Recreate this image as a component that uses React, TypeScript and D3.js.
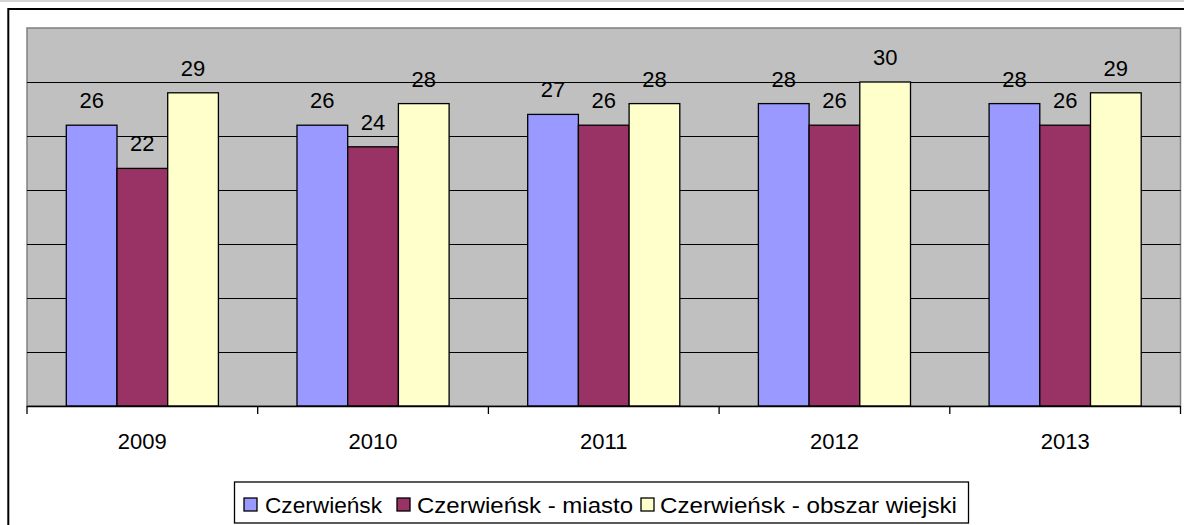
import React from "react";
import * as d3 from "d3";

const years = ["2009", "2010", "2011", "2012", "2013"];
const seriesNames = ["Czerwieńsk", "Czerwieńsk - miasto", "Czerwieńsk - obszar wiejski"];
const czerwiensk = [26, 26, 27, 28, 28];
const miasto = [22, 24, 26, 26, 26];
const obszarWiejski = [29, 28, 28, 30, 29];
const yTicks = [5, 10, 15, 20, 25, 30];

const colors = ["#9999FF", "#993366", "#FFFFCC"];
const FONT = "'Liberation Sans', Arial, sans-serif";

export default function App() {
  const W = 1184;
  const H = 525;
  const plot = { left: 27, right: 1180.5, top: 28, bottom: 406 };

  const seriesValues = [czerwiensk, miasto, obszarWiejski];

  const x0 = d3.scaleBand<string>().domain(years).range([plot.left, plot.right]).padding(0);
  const x1 = d3
    .scaleBand<string>()
    .domain(seriesNames)
    .range([0, x0.bandwidth()])
    .paddingInner(0)
    .paddingOuter(0.775);
  const y = d3.scaleLinear().domain([0, 35]).range([plot.bottom, plot.top]);

  const tickXs = years.map((yr) => x0(yr) as number).concat([plot.right]);

  // legend layout
  const legendItems = [
    { sq: 244, tx: 265, len: 117 },
    { sq: 397, tx: 417, len: 216 },
    { sq: 641, tx: 660, len: 297 },
  ];

  return (
    <div style={{ position: "absolute", left: 0, top: 0 }}>
      <svg width={W} height={H} style={{ display: "block" }}>
        <rect x={0} y={0} width={W} height={H} fill="#ffffff" />
        <rect x={0} y={0} width={W} height={2} fill="#d4d4d4" />
        {/* outer chart border */}
        <rect x={8.3} y={9} width={1190} height={540} fill="#ffffff" stroke="#000" strokeWidth={2} />

        {/* plot area */}
        <rect
          x={plot.left}
          y={plot.top}
          width={plot.right - plot.left}
          height={plot.bottom - plot.top}
          fill="#C0C0C0"
          stroke="#808080"
          strokeWidth={1.5}
        />

        {/* gridlines */}
        {yTicks.map((t) => (
          <line
            key={t}
            x1={plot.left}
            x2={plot.right}
            y1={Math.round(y(t)) + 0.5}
            y2={Math.round(y(t)) + 0.5}
            stroke="#000"
            strokeWidth={1}
          />
        ))}

        {/* bars */}
        {years.map((yr, i) => (
          <g key={yr}>
            {seriesNames.map((s, j) => {
              const v = seriesValues[j][i];
              const bx = (x0(yr) as number) + (x1(s) as number);
              const by = y(v);
              return (
                <rect
                  key={s}
                  x={bx}
                  y={by}
                  width={x1.bandwidth()}
                  height={plot.bottom - by}
                  fill={colors[j]}
                  stroke="#000"
                  strokeWidth={1.3}
                />
              );
            })}
          </g>
        ))}

        {/* data labels */}
        {years.map((yr, i) =>
          seriesNames.map((s, j) => {
            const v = seriesValues[j][i];
            const cx = (x0(yr) as number) + (x1(s) as number) + x1.bandwidth() / 2;
            return (
              <text
                key={yr + s}
                x={cx}
                y={y(v) - 17}
                textAnchor="middle"
                fontFamily={FONT}
                fontSize={22}
                fill="#000"
              >
                {v}
              </text>
            );
          })
        )}

        {/* x axis */}
        <line x1={plot.left} x2={plot.right} y1={406.5} y2={406.5} stroke="#000" strokeWidth={1.5} />
        {tickXs.map((tx, i) => (
          <line key={i} x1={tx} x2={tx} y1={406} y2={414} stroke="#000" strokeWidth={1.3} />
        ))}
        {years.map((yr) => (
          <text
            key={yr}
            x={(x0(yr) as number) + x0.bandwidth() / 2}
            y={449}
            textAnchor="middle"
            fontFamily={FONT}
            fontSize={22}
            fill="#000"
          >
            {yr}
          </text>
        ))}

        {/* legend */}
        <rect x={234.5} y={482} width={734} height={41} fill="#fff" stroke="#000" strokeWidth={1.3} />
        {seriesNames.map((s, j) => (
          <g key={s}>
            <rect
              x={legendItems[j].sq}
              y={498}
              width={13}
              height={13}
              fill={colors[j]}
              stroke="#000"
              strokeWidth={1.3}
            />
            <text
              x={legendItems[j].tx}
              y={512.5}
              fontFamily={FONT}
              fontSize={22}
              fill="#000"
              textLength={legendItems[j].len}
              lengthAdjust="spacingAndGlyphs"
            >
              {s}
            </text>
          </g>
        ))}
      </svg>
    </div>
  );
}
